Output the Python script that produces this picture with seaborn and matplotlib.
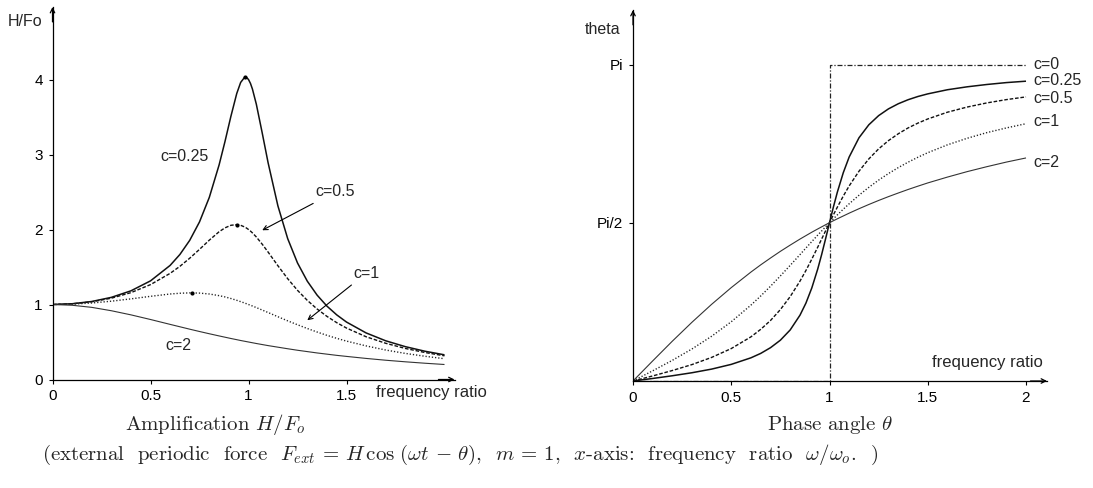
import numpy as np
import pandas as pd
import matplotlib
matplotlib.use("Agg")
import matplotlib.pyplot as plt
import seaborn as sns

# frequency ratio omega/omega_o at which the curves are sampled
ratio = [0, 0.1, 0.2, 0.3, 0.4, 0.5, 0.6, 0.65, 0.7, 0.75, 0.8, 0.85, 0.88,
         0.91, 0.94, 0.96, 0.98, 0.99, 1.0, 1.01, 1.02, 1.04, 1.07, 1.1, 1.15,
         1.2, 1.25, 1.3, 1.35, 1.4, 1.45, 1.5, 1.6, 1.7, 1.8, 1.9, 2.0]

# amplification H/Fo for each damping coefficient c
amp_c025 = [1.000, 1.010, 1.040, 1.095, 1.182, 1.315, 1.521, 1.667, 1.855,
            2.101, 2.428, 2.861, 3.173, 3.507, 3.813, 3.961, 4.029, 4.027,
            4.000, 3.948, 3.873, 3.670, 3.287, 2.890, 2.315, 1.878, 1.554,
            1.311, 1.125, 0.979, 0.862, 0.766, 0.621, 0.516, 0.438, 0.377,
            0.329]
amp_c05 = [1.000, 1.009, 1.036, 1.084, 1.158, 1.265, 1.415, 1.509, 1.617,
           1.735, 1.858, 1.970, 2.022, 2.056, 2.065, 2.056, 2.034, 2.019,
           2.000, 1.979, 1.955, 1.900, 1.804, 1.699, 1.517, 1.344, 1.189,
           1.055, 0.940, 0.842, 0.758, 0.686, 0.570, 0.483, 0.414, 0.360,
           0.316]
amp_c1 = [1.000, 1.005, 1.020, 1.044, 1.075, 1.109, 1.140, 1.150, 1.155,
          1.152, 1.140, 1.118, 1.101, 1.080, 1.056, 1.038, 1.020, 1.010,
          1.000, 0.990, 0.980, 0.959, 0.926, 0.893, 0.837, 0.782, 0.730,
          0.680, 0.633, 0.589, 0.549, 0.512, 0.448, 0.393, 0.348, 0.310,
          0.277]
amp_c2 = [1.000, 0.990, 0.962, 0.917, 0.862, 0.800, 0.735, 0.703, 0.671,
          0.640, 0.610, 0.581, 0.564, 0.547, 0.531, 0.520, 0.510, 0.505,
          0.500, 0.495, 0.490, 0.480, 0.466, 0.452, 0.431, 0.410, 0.390,
          0.372, 0.354, 0.338, 0.322, 0.308, 0.281, 0.257, 0.236, 0.217,
          0.200]

# resonance peaks marked with a dot
peak_ratio = [0.98, 0.94, 0.71]
peak_amp = [4.03, 2.065, 1.155]

# phase angle theta (radians)
phase_c025 = [0.000, 0.025, 0.052, 0.082, 0.118, 0.165, 0.230, 0.274, 0.331,
              0.405, 0.507, 0.654, 0.773, 0.924, 1.111, 1.255, 1.411, 1.491,
              1.571, 1.650, 1.728, 1.875, 2.067, 2.223, 2.414, 2.543, 2.634,
              2.701, 2.752, 2.792, 2.824, 2.850, 2.891, 2.920, 2.943, 2.962,
              2.976]
phase_c05 = [0.000, 0.050, 0.104, 0.163, 0.234, 0.322, 0.438, 0.513, 0.601,
             0.709, 0.838, 0.992, 1.097, 1.210, 1.328, 1.409, 1.490, 1.531,
             1.571, 1.611, 1.650, 1.726, 1.835, 1.936, 2.082, 2.204, 2.304,
             2.386, 2.454, 2.512, 2.560, 2.601, 2.668, 2.719, 2.760, 2.793,
             2.820]
phase_c1 = [0.000, 0.101, 0.205, 0.318, 0.444, 0.588, 0.753, 0.844, 0.941,
            1.043, 1.148, 1.255, 1.320, 1.384, 1.448, 1.489, 1.530, 1.551,
            1.571, 1.591, 1.610, 1.649, 1.705, 1.759, 1.844, 1.922, 1.994,
            2.059, 2.118, 2.172, 2.221, 2.266, 2.344, 2.409, 2.465, 2.512,
            2.554]
phase_c2 = [0.000, 0.199, 0.395, 0.583, 0.761, 0.927, 1.081, 1.153, 1.221,
            1.287, 1.349, 1.409, 1.443, 1.477, 1.509, 1.530, 1.551, 1.561,
            1.571, 1.581, 1.591, 1.610, 1.638, 1.666, 1.710, 1.752, 1.792,
            1.830, 1.866, 1.901, 1.934, 1.966, 2.024, 2.078, 2.127, 2.173,
            2.214]
# undamped case: a jump from 0 to pi at resonance
c0_ratio = [0, 1, 1, 2]
c0_phase = [0.0, 0.0, np.pi, np.pi]

amp_ticks = [0, 1, 2, 3, 4]
amp_ticklabels = ["0", "1", "2", "3", "4"]
left_xticks = [0, 0.5, 1, 1.5]
left_xticklabels = ["0", "0.5", "1", "1.5"]
right_xticks = [0, 0.5, 1, 1.5, 2]
right_xticklabels = ["0", "0.5", "1", "1.5", "2"]
phase_ticks = [np.pi / 2, np.pi]
phase_ticklabels = ["Pi/2", "Pi"]

sns.set_theme(style="white")
plt.rcParams["font.family"] = ["Liberation Sans", "DejaVu Sans"]
plt.rcParams["mathtext.fontset"] = "cm"

W, H = 1093, 488
fig = plt.figure(figsize=(W / 100, H / 100), dpi=100)
fig.patch.set_facecolor("white")


def px_axes(x0, y_bottom, width, height):
    return fig.add_axes([x0 / W, (H - y_bottom) / H, width / W, height / H])


axL = px_axes(52.5, 379.5, 402, 372.5)
axR = px_axes(633, 381, 414, 371)

SOLID = (0, ())
DASHED = (0, (2.6, 1.3))
DOTTED = (0, (0.9, 1.4))
DASHDOT = (0, (4, 1.5, 1, 1.5))

left_series = [
    (amp_c025, "#111111", SOLID, 1.1),
    (amp_c05, "#111111", DASHED, 1.0),
    (amp_c1, "#222222", DOTTED, 1.0),
    (amp_c2, "#333333", SOLID, 0.8),
]
for vals, col, ls, lw in left_series:
    sns.lineplot(x=ratio, y=vals, ax=axL, color=col, linestyle=ls, lw=lw,
                 estimator=None, sort=False)
sns.scatterplot(x=peak_ratio, y=peak_amp, ax=axL, color="black", s=9,
                linewidth=0, zorder=5)

right_series = [
    (c0_ratio, c0_phase, "#222222", DASHDOT, 0.9),
    (ratio, phase_c025, "#111111", SOLID, 1.1),
    (ratio, phase_c05, "#111111", DASHED, 1.0),
    (ratio, phase_c1, "#222222", DOTTED, 1.0),
    (ratio, phase_c2, "#333333", SOLID, 0.8),
]
for xs, vals, col, ls, lw in right_series:
    sns.lineplot(x=xs, y=vals, ax=axR, color=col, linestyle=ls, lw=lw,
                 estimator=None, sort=False)

label_fs = 11.5
tick_fs = 11

# axes frames: left and bottom lines ending in arrows
for ax, xmax, ymax in [(axL, 402 / 196, 372.5 / 75),
                       (axR, 414 / 196.5, 371 * np.pi / 316.5)]:
    ax.set_xlim(0, xmax)
    ax.set_ylim(0, ymax)
    for side in ["top", "right"]:
        ax.spines[side].set_visible(False)
    for side in ["left", "bottom"]:
        ax.spines[side].set_color("black")
        ax.spines[side].set_linewidth(0.9)
    ax.annotate("", xy=(1.0, 0), xytext=(0.96, 0), xycoords="axes fraction",
                arrowprops=dict(arrowstyle="->", lw=0.9, color="black",
                                mutation_scale=8, shrinkA=0, shrinkB=0),
                annotation_clip=False)
    ax.annotate("", xy=(0, 1.0), xytext=(0, 0.96), xycoords="axes fraction",
                arrowprops=dict(arrowstyle="->", lw=0.9, color="black",
                                mutation_scale=8, shrinkA=0, shrinkB=0),
                annotation_clip=False)
    ax.tick_params(axis="both", which="major", direction="out", length=3,
                   width=0.8, color="black", labelsize=tick_fs,
                   labelcolor="black", pad=4, bottom=True, left=True)
    ax.grid(False)
    ax.set_xlabel("")
    ax.set_ylabel("")

axL.set_xticks(left_xticks)
axL.set_xticklabels(left_xticklabels)
axL.set_yticks(amp_ticks)
axL.set_yticklabels(amp_ticklabels)

axR.set_xticks(right_xticks)
axR.set_xticklabels(right_xticklabels)
axR.set_yticks(phase_ticks)
axR.set_yticklabels(phase_ticklabels)

# curve labels, left panel
axL.text(0.676, 2.97, "c=0.25", fontsize=label_fs, ha="center", va="center")
axL.text(0.64, 0.46, "c=2", fontsize=label_fs, ha="center", va="center")
axL.annotate("c=0.5", xy=(1.07, 1.99), xytext=(1.34, 2.50), fontsize=label_fs,
             ha="left", va="center",
             arrowprops=dict(arrowstyle="->", lw=0.8, color="black",
                             shrinkA=1, shrinkB=0, mutation_scale=8))
axL.annotate("c=1", xy=(1.30, 0.79), xytext=(1.533, 1.415), fontsize=label_fs,
             ha="left", va="center",
             arrowprops=dict(arrowstyle="->", lw=0.8, color="black",
                             shrinkA=1, shrinkB=0, mutation_scale=8))

# curve labels, right panel
right_labels = ["c=0", "c=0.25", "c=0.5", "c=1", "c=2"]
right_label_y = [np.pi, 2.985, 2.805, 2.58, 2.165]
for txt, yv in zip(right_labels, right_label_y):
    axR.text(2.04, yv, txt, fontsize=label_fs, ha="left", va="center")

# axis names
fig.text(8 / W, (H - 22) / H, "H/Fo", fontsize=label_fs, ha="left",
         va="center")
fig.text(431 / W, (H - 392) / H, "frequency ratio", fontsize=12,
         ha="center", va="center")
fig.text(585 / W, (H - 30) / H, "theta", fontsize=label_fs, ha="left",
         va="center")
fig.text(987 / W, (H - 363) / H, "frequency ratio", fontsize=12,
         ha="center", va="center")

# panel titles and caption
cm_font = dict(family="cmr10")
fig.text(125 / W, (H - 430) / H, r"Amplification $H/F_o$", fontsize=15,
         ha="left", va="baseline", **cm_font)
fig.text(830 / W, (H - 430) / H, r"Phase angle $\theta$", fontsize=15,
         ha="center", va="baseline", **cm_font)
fig.text(42 / W, (H - 460) / H,
         r"(external  periodic  force  $F_{ext}$ = $H\,\cos\,(\omega t\,-\,\theta)$,"
         r"  $m$ = 1,  $x$-axis:  frequency  ratio  $\omega/\omega_o$.  )",
         fontsize=15, ha="left", va="baseline", **cm_font)

fig.savefig("out.png", dpi=100, facecolor="white")
